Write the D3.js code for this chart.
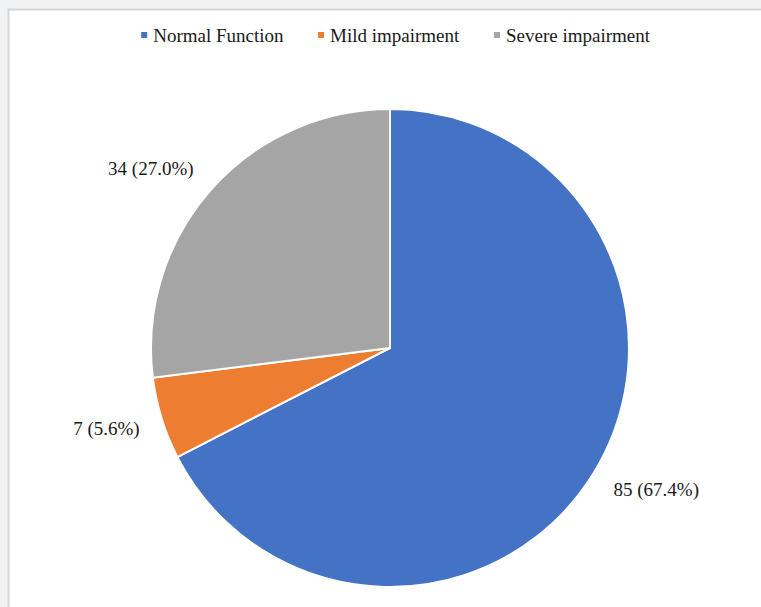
<!DOCTYPE html>
<html>
<head>
<meta charset="utf-8">
<script src="https://cdn.jsdelivr.net/npm/d3@7"></script>
<style>
  body { margin: 0; background: #f1f2f4; }
  svg { display: block; }
  text { font-family: "Liberation Serif", "Times New Roman", serif; fill: #1a1a1a; }
</style>
</head>
<body>
<div id="chart"></div>
<script>
// data
var categories = ["Normal Function", "Mild impairment", "Severe impairment"]
var counts = [85, 7, 34]
var percents = ["67.4%", "5.6%", "27.0%"]
var colors = ["#4472C4", "#ED7D31", "#A5A5A5"]

var width = 761, height = 607
var cx = 390, cy = 348, radius = 239
var labelRadius = 262

var svg = d3.select("#chart").append("svg")
  .attr("width", width)
  .attr("height", height)

// panel
svg.append("rect")
  .attr("x", 8.5).attr("y", 9.5)
  .attr("width", 800).attr("height", 700)
  .attr("fill", "#fff")
  .attr("stroke", "#d4d5d7")
  .attr("stroke-width", 2)

var data = categories.map(function (c, i) {
  return { name: c, value: counts[i], pct: percents[i], color: colors[i] }
})

var pie = d3.pie().sort(null).value(function (d) { return d.value })
var arc = d3.arc().innerRadius(0).outerRadius(radius)

var g = svg.append("g").attr("transform", "translate(" + cx + "," + cy + ")")

g.selectAll("path.slice")
  .data(pie(data))
  .enter().append("path")
  .attr("class", "slice")
  .attr("d", arc)
  .attr("fill", function (d) { return d.data.color })
  .attr("stroke", "#fff")
  .attr("stroke-width", 2)

// outside labels: box corner nearest the pie sits on the label radius
var labelH = 20
g.selectAll("text.lbl")
  .data(pie(data))
  .enter().append("text")
  .attr("class", "lbl")
  .each(function (d) {
    var a = (d.startAngle + d.endAngle) / 2
    var sx = Math.sin(a), sy = -Math.cos(a)
    var px = sx * labelRadius, py = sy * labelRadius + sy * labelH / 2
    d3.select(this)
      .attr("x", px)
      .attr("y", py)
      .attr("text-anchor", sx >= 0 ? "start" : "end")
  })
  .attr("dy", "0.35em")
  .style("font-size", "19px")
  .text(function (d) { return d.data.value + " (" + d.data.pct + ")" })

// legend
var legend = svg.append("g").attr("class", "legend")
var items = legend.selectAll("g.item")
  .data(data)
  .enter().append("g")
  .attr("class", "item")

items.append("rect")
  .attr("width", 6).attr("height", 6)
  .attr("y", -3)
  .attr("fill", function (d) { return d.color })

items.append("text")
  .attr("x", 12)
  .attr("dy", "0.35em")
  .style("font-size", "19px")
  .text(function (d) { return d.name })

var x = 0, gap = 34
items.each(function () {
  var w = this.getBBox().width
  d3.select(this).attr("transform", "translate(" + x + ",0)")
  x += w + gap
})
var total = x - gap
legend.attr("transform", "translate(" + (396 - total / 2) + ",35)")
</script>
</body>
</html>
